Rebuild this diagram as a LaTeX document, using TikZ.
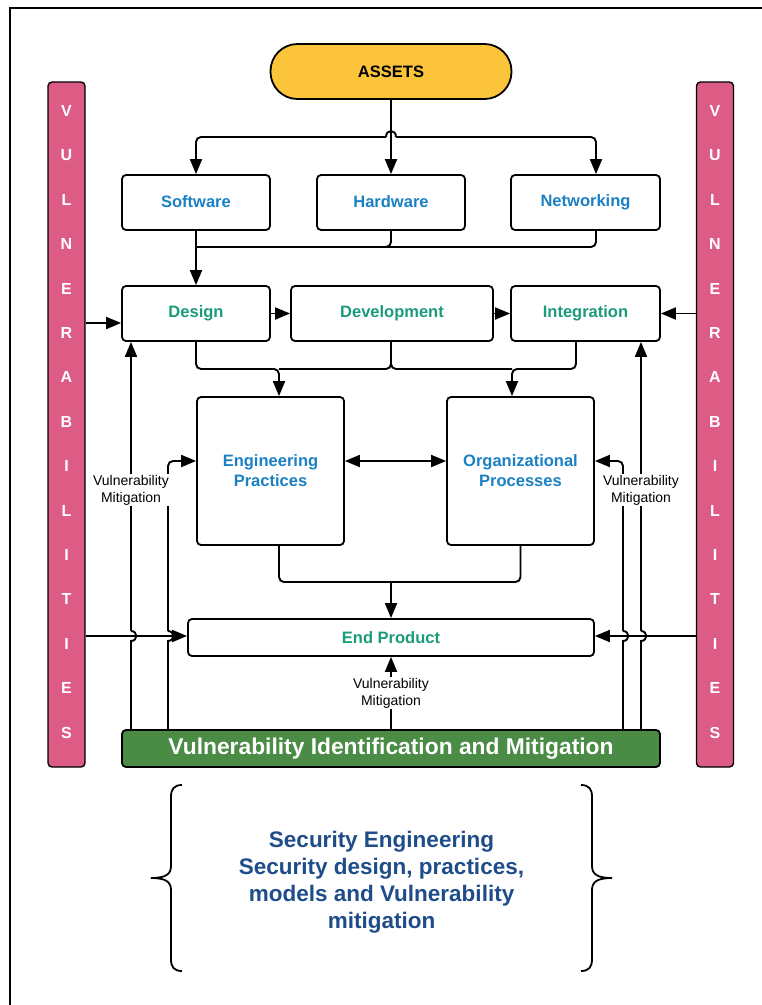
\documentclass[tikz,border=0pt]{standalone}
\usepackage{fontspec}
\setmainfont{Liberation Sans}
\usetikzlibrary{arrows.meta}
\definecolor{assetgold}{RGB}{251,196,58}
\definecolor{vulnpink}{RGB}{221,92,133}
\definecolor{vimgreen}{RGB}{74,139,70}
\definecolor{txtblue}{RGB}{27,128,196}
\definecolor{txtteal}{RGB}{27,155,121}
\definecolor{txtnavy}{RGB}{31,77,137}
\begin{document}
\begin{tikzpicture}[x=1pt,y=-1pt,
  box/.style={draw, line width=1.8pt, rounded corners=4pt, fill=white, inner sep=0pt,
    font=\fontsize{16.5}{20}\selectfont\bfseries, align=center},
  bluebox/.style={box, text=txtblue},
  tealbox/.style={box, text=txtteal},
  vbar/.style={draw, line width=1.4pt, rounded corners=4pt, fill=vulnpink, inner sep=0pt,
    minimum width=37pt, minimum height=685pt},
  vletter/.style={text=white, font=\fontsize{16}{16}\selectfont\bfseries},
  conn/.style={line width=1.9pt},
  arr/.style={conn, -{Triangle[length=15pt,width=12pt]}},
  dbl/.style={conn, {Triangle[length=15pt,width=12pt]}-{Triangle[length=15pt,width=12pt]}},
  vmlabel/.style={fill=white, inner sep=1pt, font=\fontsize{14}{17}\selectfont, align=center},
  brace/.style={line width=1.8pt}]

\useasboundingbox (0,0) rectangle (762,1005);

% outer frame
\draw[line width=2.6pt] (762,8) -- (10,8) -- (10,1005);

% vulnerability bars
\node[vbar] (lbar) at (66.5,424.5) {};
\node[vbar] (rbar) at (715,424.5) {};
\foreach \ch [count=\i from 0] in {V,U,L,N,E,R,A,B,I,L,I,T,I,E,S}{
  \node[vletter] (ll\i) at (66.5,111+44.4*\i) {\ch};
  \node[vletter] (rl\i) at (715,111+44.4*\i) {\ch};
}

% assets
\node[draw, line width=1.8pt, fill=assetgold, rounded corners=27pt, minimum width=241pt,
  minimum height=55pt, inner sep=0pt, font=\fontsize{16.5}{20}\selectfont\bfseries] (assets) at (391,71.5) {ASSETS};

% asset categories
\node[bluebox, minimum width=148pt, minimum height=55pt] (sw) at (196,202.5) {\raisebox{1.5pt}{Software}};
\node[bluebox, minimum width=148pt, minimum height=55pt] (hw) at (391,202.5) {\raisebox{1.5pt}{Hardware}};
\node[bluebox, minimum width=149pt, minimum height=55pt] (nw) at (585.5,202.5) {\raisebox{1.5pt}{Networking}};

% life-cycle stages
\node[tealbox, minimum width=148pt, minimum height=55pt] (design) at (196,313.5) {Design};
\node[tealbox, minimum width=202pt, minimum height=55pt] (dev) at (392,313.5) {Development};
\node[tealbox, minimum width=149pt, minimum height=55pt] (integ) at (585.5,313.5) {Integration};

% practices and processes
\node[bluebox, minimum width=147pt, minimum height=148pt] (eng) at (270.5,471) {Engineering\\Practices};
\node[bluebox, minimum width=147pt, minimum height=148pt] (org) at (520.5,471) {Organizational\\Processes};

% end product and mitigation bar
\node[tealbox, minimum width=406pt, minimum height=37pt] (endp) at (391,637.5) {End Product};
\node[draw, line width=1.8pt, rounded corners=4pt, fill=vimgreen, text=white, inner sep=0pt,
  minimum width=538pt, minimum height=37pt, font=\fontsize{22.8}{24}\selectfont\bfseries] (vim) at (391,748.5)
  {Vulnerability Identification and Mitigation};

% assets fan-out
\coordinate (hopL) at (386,137);
\coordinate (hopR) at (396,137);
\draw[arr] (assets.south) -- (hw.north);
\draw[arr, rounded corners=5pt] (hopL) -| (sw.north);
\draw[arr, rounded corners=5pt] (hopR) -| (nw.north -| 596,0);
\draw[conn] (hopL) .. controls (386,129) and (396,129) .. (hopR);

% categories feed design
\coordinate (j1) at (196,247);
\draw[arr] (sw.south) -- (design.north);
\draw[conn, rounded corners=5pt] (hw.south) |- (j1);
\draw[conn, rounded corners=5pt] (nw.south -| 596,0) |- (j1);

% stage chain
\draw[arr] (design.east) -- (dev.west);
\draw[arr] (dev.east) -- (integ.west);
\draw[arr] (lbar.east |- 0,323) -- (design.west |- 0,323);
\draw[arr] (rbar.west |- integ.east) -- (integ.east);

% stages to practices / processes
\coordinate (j2) at (279,369);
\coordinate (j3) at (512,369);
\draw[arr, rounded corners=5pt] (design.south) |- (j2) -- (j2 |- eng.north);
\draw[conn, rounded corners=5pt] (dev.south -| 391,0) |- (j2);
\draw[conn, rounded corners=5pt] (dev.south -| 391,0) |- (j3);
\draw[arr, rounded corners=5pt] (integ.south -| 576,0) |- (j3) -- (j3 |- org.north);
\draw[dbl] (eng.east |- 0,461) -- (org.west |- 0,461);

% practices / processes to end product
\coordinate (j4) at (391,582);
\draw[conn, rounded corners=5pt] (eng.south -| 279,0) |- (j4);
\draw[conn, rounded corners=5pt] (org.south) |- (j4);
\draw[arr] (j4) -- (endp.north);

% mitigation feedback, left
\draw[conn] (vim.north -| 131,0) -- (131,641) .. controls (138,641) and (138,631) .. (131,631);
\draw[arr] (131,631) -- (design.south -| 131,0);
\draw[conn] (vim.north -| 168,0) -- (168,641) .. controls (175,641) and (175,631) .. (168,631);
\draw[arr, rounded corners=5pt] (168,631) |- (eng.west |- 0,461);
\draw[arr] (lbar.east |- 0,636) -- (endp.west |- 0,636);
\node[vmlabel] (lvm) at (131,490) {Vulnerability\\Mitigation};

% mitigation feedback, right
\draw[conn] (vim.north -| 641,0) -- (641,641) .. controls (648,641) and (648,631) .. (641,631);
\draw[arr] (641,631) -- (integ.south -| 641,0);
\draw[conn] (vim.north -| 623,0) -- (623,641) .. controls (630,641) and (630,631) .. (623,631);
\draw[arr, rounded corners=5pt] (623,631) |- (org.east |- 0,461);
\draw[arr] (rbar.west |- 0,636) -- (endp.east |- 0,636);
\node[vmlabel] (rvm) at (641,490) {Vulnerability\\Mitigation};

% mitigation feedback, centre
\draw[arr] (vim.north) -- node[vmlabel] (cvm) {Vulnerability\\Mitigation} (endp.south);

% summary braces and text
\draw[brace] (182,785) .. controls (174,785) and (171,789) .. (171,797) -- (171,866)
  .. controls (171,874) and (166,878) .. (151,878)
  .. controls (166,878) and (171,882) .. (171,890) -- (171,959)
  .. controls (171,967) and (174,971) .. (182,971);
\draw[brace] (581,785) .. controls (589,785) and (592,789) .. (592,797) -- (592,866)
  .. controls (592,874) and (597,878) .. (612,878)
  .. controls (597,878) and (592,882) .. (592,890) -- (592,959)
  .. controls (592,967) and (589,971) .. (581,971);
\node[text=txtnavy, align=center, font=\fontsize{22.5}{27}\selectfont\bfseries] (summary) at (381.5,882)
  {Security Engineering\\Security design, practices,\\models and Vulnerability\\mitigation};
\end{tikzpicture}
\end{document}
